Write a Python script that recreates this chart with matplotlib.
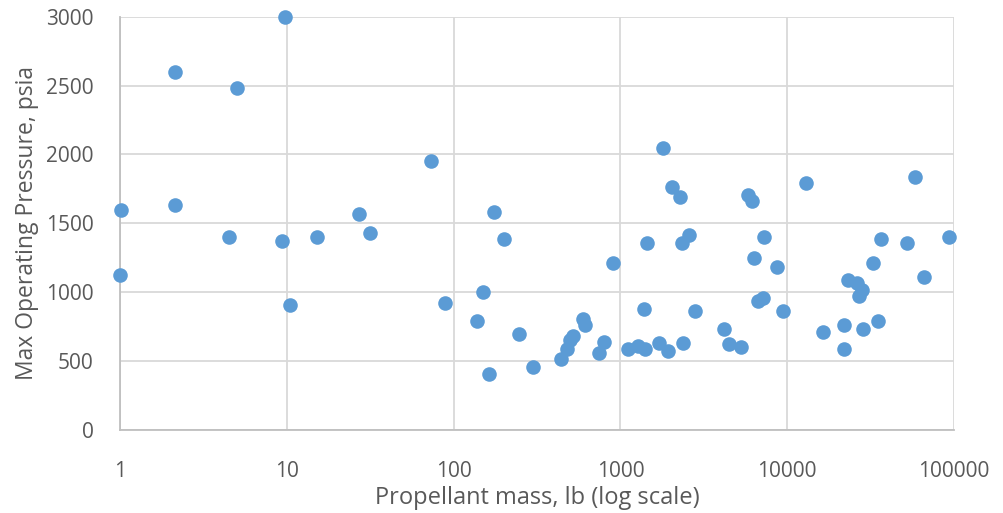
import matplotlib.pyplot as plt
import numpy as np

# propellant mass (lb) and max operating pressure (psia)
mass_lb = [
    1.02, 1.0, 2.13, 2.13, 4.51, 5.04, 9.3, 9.8, 10.4, 15.2, 27.1, 31.4,
    72.8, 89.2, 138, 150, 163.6, 173.6, 200, 245, 301, 439, 477, 500, 518,
    600, 617, 741, 802, 904, 1106, 1282, 1393, 1405, 1436, 1705, 1808, 1920,
    2040, 2287, 2351, 2360, 2565, 2786, 4197, 4449, 5305, 5785, 6113, 6318,
    6640, 7113, 7310, 8675, 9465, 13000, 16430, 21850, 21850, 23190, 26340,
    26990, 28240, 28400, 32740, 34930, 36710, 52320, 58650, 66100, 93300,
]
pressure_psia = [
    1600, 1125, 2600, 1630, 1400, 2480, 1370, 3000, 910, 1400, 1565, 1430,
    1950, 925, 790, 1000, 410, 1580, 1385, 695, 455, 515, 590, 650, 680,
    805, 760, 560, 640, 1215, 590, 610, 880, 590, 1355, 635, 2050, 575,
    1765, 1690, 1355, 635, 1415, 865, 730, 625, 605, 1705, 1660, 1245,
    940, 960, 1400, 1185, 865, 1795, 710, 760, 590, 1090, 1065,
    970, 1015, 730, 1215, 790, 1385, 1355, 1840, 1110, 1400,
]

x_ticks = [1, 10, 100, 1000, 10000, 100000]
x_tick_labels = ["1", "10", "100", "1000", "10000", "100000"]
y_ticks = [0, 500, 1000, 1500, 2000, 2500, 3000]

text_col = "#595959"
grid_col = "#d9d9d9"

plt.rcParams['font.family'] = ['Open Sans', 'DejaVu Sans']

fig = plt.figure(figsize=(10.04, 5.13), dpi=100)
ax = fig.add_axes([0.1195, 0.1618, 0.8307, 0.8056])

ax.scatter(mass_lb, pressure_psia, s=110, color="#5b9bd5", linewidths=0,
           zorder=3, clip_on=False)

ax.set_xscale("log")
ax.set_xlim(1, 100000)
ax.set_ylim(0, 3000)
ax.set_xticks(x_ticks)
ax.set_xticklabels(x_tick_labels)
ax.xaxis.set_minor_locator(plt.NullLocator())
ax.set_yticks(y_ticks)

ax.grid(True, color=grid_col, linewidth=1.3)
ax.set_axisbelow(True)
for side in ["top", "right"]:
    ax.spines[side].set_visible(False)
for side in ["left", "bottom"]:
    ax.spines[side].set_color("#bfbfbf")
    ax.spines[side].set_linewidth(1.3)

ax.tick_params(length=0, colors=text_col, labelsize=15)
ax.tick_params(axis="y", pad=19)
ax.tick_params(axis="x", pad=22)

ax.set_xlabel("Propellant mass, lb (log scale)", fontsize=17, color=text_col,
              labelpad=3)
ax.set_ylabel("Max Operating Pressure, psia", fontsize=16.5, color=text_col,
              labelpad=5)

fig.savefig("out.png", dpi=100)
